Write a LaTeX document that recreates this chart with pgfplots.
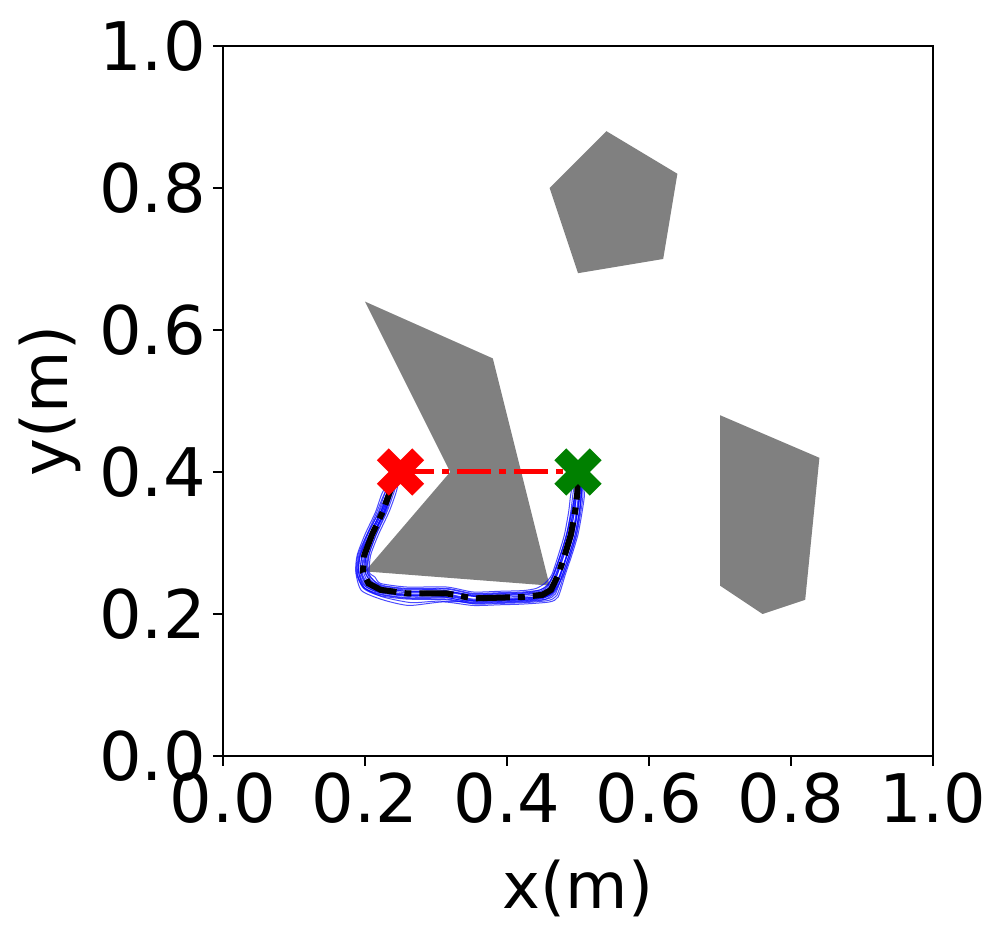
\documentclass[border=0pt]{standalone}
\usepackage{fontspec}
\setmainfont{DejaVu Sans}
\usepackage{pgfplots}
\pgfplotsset{compat=1.18}
\definecolor{mplgray}{RGB}{128,128,128}
\definecolor{mplgreen}{RGB}{0,128,0}
\pgfdeclareplotmark{Xf}{%
  \pgfpathmoveto{\pgfqpoint{-5.9pt}{-11.8pt}}%
  \pgfpathlineto{\pgfqpoint{0pt}{-5.9pt}}%
  \pgfpathlineto{\pgfqpoint{5.9pt}{-11.8pt}}%
  \pgfpathlineto{\pgfqpoint{11.8pt}{-5.9pt}}%
  \pgfpathlineto{\pgfqpoint{5.9pt}{0pt}}%
  \pgfpathlineto{\pgfqpoint{11.8pt}{5.9pt}}%
  \pgfpathlineto{\pgfqpoint{5.9pt}{11.8pt}}%
  \pgfpathlineto{\pgfqpoint{0pt}{5.9pt}}%
  \pgfpathlineto{\pgfqpoint{-5.9pt}{11.8pt}}%
  \pgfpathlineto{\pgfqpoint{-11.8pt}{5.9pt}}%
  \pgfpathlineto{\pgfqpoint{-5.9pt}{0pt}}%
  \pgfpathlineto{\pgfqpoint{-11.8pt}{-5.9pt}}%
  \pgfpathclose\pgfusepathqfill}
\begin{document}
\begin{tikzpicture}
\path[use as bounding box] (-111.5pt,-92pt) rectangle (392pt,378pt);
\begin{axis}[
  at={(0,0)}, anchor=south west,
  scale only axis, width=355pt, height=355pt,
  xmin=0, xmax=1, ymin=0, ymax=1,
  xtick={0,0.2,0.4,0.6,0.8,1.0},
  ytick={0,0.2,0.4,0.6,0.8,1.0},
  xticklabels={0.0,0.2,0.4,0.6,0.8,1.0},
  yticklabels={0.0,0.2,0.4,0.6,0.8,1.0},
  tick pos=left, tick align=outside,
  major tick length=5pt,
  every tick/.style={black, line width=0.9pt},
  axis line style={line width=0.9pt},
  ticklabel style={font=\fontsize{33.5}{40}\selectfont},
  xlabel={x(m)}, ylabel={y(m)},
  label style={font=\fontsize{32}{38}\selectfont},
  xlabel style={yshift=-11pt},
  ylabel style={yshift=2.5pt},
  clip=false,
]
% obstacles
\addplot[fill=mplgray, draw=none] coordinates {(0.54,0.88) (0.64,0.82) (0.62,0.70) (0.50,0.68) (0.46,0.80)} -- cycle;
\addplot[fill=mplgray, draw=none] coordinates {(0.20,0.64) (0.38,0.56) (0.46,0.24) (0.20,0.26) (0.32,0.40)} -- cycle;
\addplot[fill=mplgray, draw=none] coordinates {(0.70,0.48) (0.84,0.42) (0.82,0.22) (0.76,0.20) (0.70,0.24)} -- cycle;
% sampled trajectories
\pgfplotsset{samp/.style={blue, line width=0.5pt, opacity=0.7, smooth, tension=0.4}}
\addplot[samp] coordinates {(0.247,0.398)(0.232,0.372)(0.220,0.344)(0.203,0.312)(0.190,0.283)(0.188,0.257)(0.197,0.238)(0.218,0.228)(0.259,0.222)(0.315,0.221)(0.352,0.215)(0.390,0.216)(0.423,0.217)(0.452,0.220)(0.467,0.230)(0.478,0.255)(0.488,0.285)(0.496,0.312)(0.502,0.345)(0.504,0.370)(0.502,0.398)};
\addplot[samp] coordinates {(0.249,0.398)(0.239,0.372)(0.230,0.345)(0.216,0.313)(0.206,0.284)(0.204,0.262)(0.211,0.248)(0.226,0.240)(0.259,0.236)(0.315,0.236)(0.352,0.229)(0.390,0.230)(0.423,0.231)(0.447,0.234)(0.457,0.240)(0.466,0.258)(0.476,0.286)(0.484,0.313)(0.491,0.345)(0.496,0.370)(0.499,0.398)};
\addplot[samp] coordinates {(0.248,0.398)(0.236,0.372)(0.224,0.343)(0.208,0.310)(0.196,0.282)(0.193,0.256)(0.201,0.239)(0.220,0.230)(0.259,0.225)(0.300,0.226)(0.340,0.219)(0.390,0.219)(0.430,0.220)(0.454,0.224)(0.465,0.233)(0.475,0.256)(0.485,0.286)(0.492,0.312)(0.498,0.346)(0.501,0.372)(0.501,0.398)};
\addplot[samp] coordinates {(0.246,0.398)(0.234,0.373)(0.227,0.346)(0.213,0.314)(0.202,0.285)(0.200,0.261)(0.208,0.246)(0.224,0.237)(0.259,0.232)(0.315,0.232)(0.352,0.226)(0.390,0.227)(0.423,0.228)(0.448,0.231)(0.460,0.238)(0.469,0.257)(0.479,0.287)(0.487,0.314)(0.494,0.346)(0.497,0.371)(0.500,0.398)};
\addplot[samp] coordinates {(0.247,0.398)(0.233,0.371)(0.222,0.343)(0.206,0.311)(0.192,0.280)(0.190,0.254)(0.200,0.236)(0.225,0.224)(0.265,0.216)(0.300,0.218)(0.350,0.217)(0.395,0.218)(0.425,0.219)(0.451,0.222)(0.464,0.232)(0.474,0.254)(0.485,0.284)(0.493,0.311)(0.499,0.344)(0.502,0.369)(0.501,0.398)};
\addplot[samp] coordinates {(0.248,0.398)(0.237,0.373)(0.228,0.345)(0.212,0.313)(0.201,0.283)(0.198,0.259)(0.206,0.243)(0.222,0.235)(0.259,0.230)(0.310,0.231)(0.360,0.224)(0.395,0.224)(0.425,0.225)(0.451,0.228)(0.462,0.236)(0.471,0.256)(0.481,0.285)(0.489,0.312)(0.495,0.345)(0.498,0.371)(0.500,0.398)};
\addplot[samp] coordinates {(0.247,0.398)(0.235,0.372)(0.224,0.344)(0.209,0.312)(0.198,0.283)(0.196,0.258)(0.204,0.242)(0.221,0.233)(0.259,0.228)(0.315,0.228)(0.352,0.221)(0.390,0.222)(0.423,0.223)(0.455,0.225)(0.468,0.234)(0.480,0.256)(0.490,0.286)(0.498,0.314)(0.503,0.347)(0.505,0.372)(0.503,0.398)};
\addplot[samp] coordinates {(0.248,0.398)(0.236,0.371)(0.226,0.343)(0.211,0.311)(0.200,0.282)(0.195,0.258)(0.203,0.241)(0.220,0.232)(0.259,0.227)(0.315,0.227)(0.352,0.220)(0.390,0.221)(0.423,0.222)(0.449,0.226)(0.461,0.233)(0.470,0.254)(0.480,0.284)(0.488,0.311)(0.495,0.344)(0.498,0.369)(0.499,0.398)};
\addplot[samp] coordinates {(0.247,0.398)(0.234,0.371)(0.223,0.345)(0.207,0.313)(0.194,0.284)(0.191,0.259)(0.199,0.240)(0.219,0.231)(0.262,0.226)(0.320,0.224)(0.355,0.218)(0.392,0.220)(0.428,0.221)(0.453,0.223)(0.466,0.231)(0.476,0.255)(0.486,0.287)(0.494,0.313)(0.500,0.346)(0.503,0.371)(0.501,0.398)};
\addplot[samp] coordinates {(0.248,0.398)(0.238,0.373)(0.229,0.346)(0.214,0.314)(0.204,0.286)(0.202,0.263)(0.209,0.247)(0.225,0.238)(0.255,0.234)(0.305,0.234)(0.350,0.227)(0.385,0.228)(0.420,0.229)(0.447,0.232)(0.458,0.239)(0.467,0.259)(0.477,0.287)(0.485,0.314)(0.492,0.346)(0.496,0.372)(0.499,0.398)};
\addplot[samp] coordinates {(0.245,0.398)(0.229,0.372)(0.219,0.344)(0.204,0.312)(0.193,0.283)(0.191,0.259)(0.199,0.237)(0.222,0.228)(0.259,0.223)(0.315,0.223)(0.352,0.216)(0.390,0.217)(0.423,0.218)(0.456,0.221)(0.468,0.228)(0.478,0.255)(0.488,0.285)(0.496,0.312)(0.502,0.345)(0.505,0.370)(0.502,0.398)};
\addplot[samp] coordinates {(0.249,0.398)(0.241,0.372)(0.231,0.344)(0.216,0.312)(0.205,0.283)(0.203,0.259)(0.211,0.249)(0.222,0.240)(0.259,0.235)(0.315,0.235)(0.352,0.228)(0.390,0.229)(0.423,0.230)(0.444,0.233)(0.456,0.240)(0.466,0.255)(0.476,0.285)(0.484,0.312)(0.490,0.345)(0.493,0.370)(0.498,0.398)};
\addplot[samp] coordinates {(0.246,0.398)(0.232,0.372)(0.222,0.344)(0.207,0.312)(0.196,0.283)(0.194,0.259)(0.202,0.240)(0.222,0.231)(0.259,0.226)(0.315,0.226)(0.352,0.219)(0.390,0.220)(0.423,0.221)(0.453,0.224)(0.465,0.231)(0.475,0.255)(0.485,0.285)(0.493,0.312)(0.499,0.345)(0.502,0.370)(0.501,0.398)};
\addplot[samp] coordinates {(0.248,0.398)(0.238,0.372)(0.228,0.344)(0.213,0.312)(0.202,0.283)(0.200,0.259)(0.208,0.246)(0.222,0.237)(0.259,0.232)(0.315,0.232)(0.352,0.225)(0.390,0.226)(0.423,0.227)(0.447,0.230)(0.459,0.237)(0.469,0.255)(0.479,0.285)(0.487,0.312)(0.493,0.345)(0.496,0.370)(0.499,0.398)};
\addplot[samp] coordinates {(0.244,0.398)(0.225,0.372)(0.215,0.344)(0.200,0.312)(0.189,0.283)(0.187,0.259)(0.195,0.233)(0.225,0.220)(0.262,0.212)(0.310,0.217)(0.352,0.212)(0.390,0.213)(0.423,0.214)(0.460,0.217)(0.472,0.224)(0.482,0.255)(0.492,0.285)(0.500,0.312)(0.506,0.345)(0.509,0.370)(0.503,0.398)};
\addplot[samp] coordinates {(0.250,0.398)(0.244,0.372)(0.234,0.344)(0.219,0.312)(0.208,0.283)(0.206,0.259)(0.214,0.252)(0.222,0.243)(0.259,0.238)(0.315,0.238)(0.352,0.231)(0.390,0.232)(0.423,0.233)(0.441,0.236)(0.453,0.243)(0.463,0.255)(0.473,0.285)(0.481,0.312)(0.487,0.345)(0.490,0.370)(0.497,0.398)};
\addplot[samp] coordinates {(0.245,0.398)(0.228,0.371)(0.216,0.342)(0.202,0.310)(0.191,0.281)(0.189,0.257)(0.198,0.236)(0.220,0.226)(0.259,0.221)(0.315,0.220)(0.355,0.214)(0.392,0.215)(0.425,0.216)(0.458,0.219)(0.470,0.226)(0.480,0.254)(0.490,0.284)(0.498,0.311)(0.504,0.344)(0.507,0.369)(0.503,0.398)};
% start and goal
\addplot[only marks, mark=Xf, color=red] coordinates {(0.25,0.40)};
\addplot[only marks, mark=Xf, color=mplgreen] coordinates {(0.50,0.40)};
% straight reference
\addplot[red, line width=2.5pt, dash pattern=on 17pt off 4pt on 3.5pt off 4pt] coordinates {(0.25,0.40) (0.50,0.40)};
% mean trajectory
\addplot[black, line width=3pt, dash pattern=on 17pt off 4pt on 3.5pt off 4pt] coordinates {(0.247,0.398)(0.235,0.372)(0.225,0.344)(0.210,0.312)(0.199,0.283)(0.197,0.259)(0.205,0.243)(0.222,0.234)(0.259,0.229)(0.315,0.229)(0.352,0.222)(0.390,0.223)(0.423,0.224)(0.450,0.227)(0.462,0.234)(0.472,0.255)(0.482,0.285)(0.490,0.312)(0.496,0.345)(0.499,0.370)(0.500,0.398)};
\end{axis}
\end{tikzpicture}
\end{document}
